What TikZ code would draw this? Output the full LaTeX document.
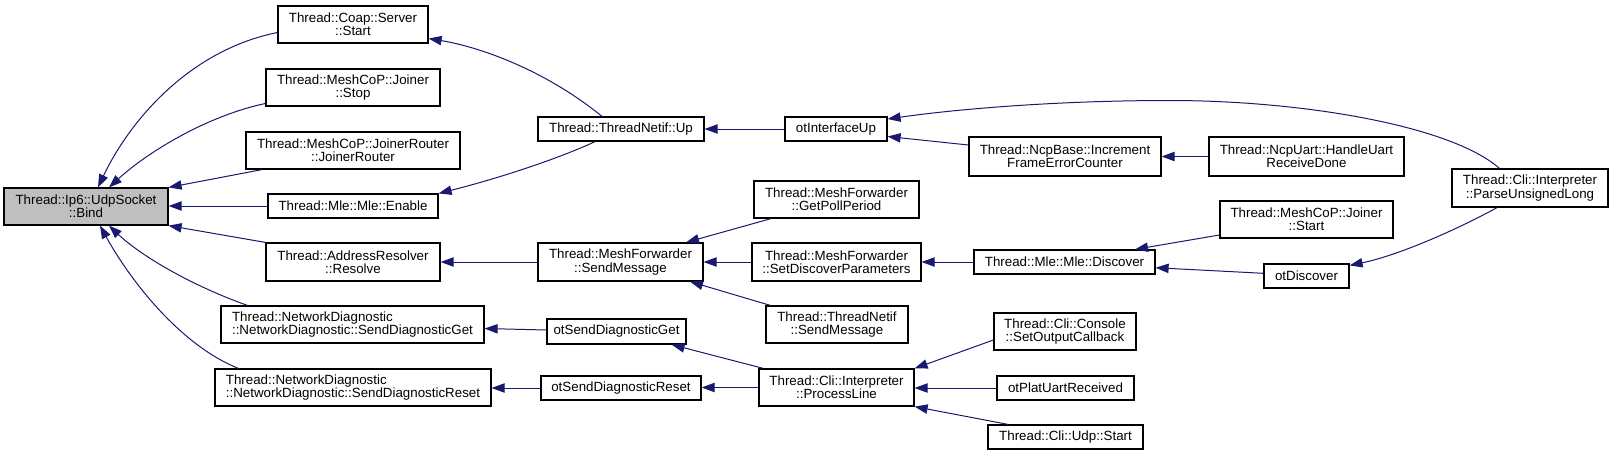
\documentclass[tikz,border=0pt]{standalone}
\usepackage{fontspec}
\setmainfont{Liberation Sans}
\usetikzlibrary{arrows.meta}
\definecolor{edgec}{HTML}{191970}
\definecolor{bindfill}{HTML}{BFBFBF}
\newcommand\mybox[7][]{\node[box,#1,minimum width={(#4-#2)*0.75pt},minimum height={(#5-#3)*0.75pt}] (#6) at ({(#2+#4)/2},{(#3+#5)/2}) {#7};}
\begin{document}
\begin{tikzpicture}[x=0.75pt,y=-0.75pt,
  box/.style={draw=black,line width=0.9pt,fill=white,inner sep=0pt,align=center,font=\fontsize{10pt}{10pt}\selectfont},
  edge/.style={draw=edgec,line width=0.75pt,-{Triangle[length=9.75pt,width=7pt]}},
]
\path[use as bounding box,fill=white] (0,0) rectangle (1613,455);

% nodes
\mybox[fill=bindfill]{4}{188}{168}{225}{bind}{Thread::Ip6::UdpSocket\\::Bind}
\mybox{278}{6}{428}{43}{srv}{Thread::Coap::Server\\::Start}
\mybox{266}{69}{440}{106}{stop}{Thread::MeshCoP::Joiner\\::Stop}
\mybox{246}{132}{460}{169}{jr}{Thread::MeshCoP::JoinerRouter\\::JoinerRouter}
\mybox{268}{194}{438}{218}{enable}{Thread::Mle::Mle::Enable}
\mybox{266}{243}{440}{281}{resolve}{Thread::AddressResolver\\::Resolve}
\mybox[align=left]{221}{306}{484}{343}{sdget}{Thread::NetworkDiagnostic\\::NetworkDiagnostic::SendDiagnosticGet}
\mybox[align=left]{215}{369}{491}{406}{sdreset}{Thread::NetworkDiagnostic\\::NetworkDiagnostic::SendDiagnosticReset}
\mybox{538}{117}{704}{141}{tnup}{Thread::ThreadNetif::Up}
\mybox{785}{117}{887}{141}{otif}{otInterfaceUp}
\mybox{969}{137}{1161}{176}{ncp}{Thread::NcpBase::Increment\\FrameErrorCounter}
\mybox{1209}{137}{1404}{176}{huart}{Thread::NcpUart::HandleUart\\ReceiveDone}
\mybox{1452}{169}{1608}{207}{pul}{Thread::Cli::Interpreter\\::ParseUnsignedLong}
\mybox{754}{181}{919}{218}{gpp}{Thread::MeshForwarder\\::GetPollPeriod}
\mybox{538}{243}{703}{281}{mfsend}{Thread::MeshForwarder\\::SendMessage}
\mybox{752}{243}{921}{281}{sdp}{Thread::MeshForwarder\\::SetDiscoverParameters}
\mybox{766}{306}{908}{343}{tnsend}{Thread::ThreadNetif\\::SendMessage}
\mybox{974}{250}{1155}{274}{disc}{Thread::Mle::Mle::Discover}
\mybox{1220}{201}{1393}{238}{jstart}{Thread::MeshCoP::Joiner\\::Start}
\mybox{1264}{264}{1349}{288}{otdisc}{otDiscover}
\mybox{547}{319}{686}{344}{otsdget}{otSendDiagnosticGet}
\mybox{541}{376}{701}{400}{otsdreset}{otSendDiagnosticReset}
\mybox{759}{369}{914}{406}{proc}{Thread::Cli::Interpreter\\::ProcessLine}
\mybox{994}{313}{1136}{350}{soc}{Thread::Cli::Console\\::SetOutputCallback}
\mybox{997}{376}{1134}{400}{uart}{otPlatUartReceived}
\mybox{988}{425}{1143}{449}{udp}{Thread::Cli::Udp::Start}

% edges
\draw[edge] ([shift={(0,8)}]srv.west) .. controls (190,50) and (130,120) .. ([shift={(12,0)}]bind.north);
\draw[edge] ([shift={(0,16)}]stop.west) .. controls (210,115) and (150,150) .. ([shift={(23,0)}]bind.north);
\draw[edge] ([shift={(-91,0)}]jr.south) -- (bind.north east);
\draw[edge] (enable.west) -- (enable.west -| bind.east);
\draw[edge] (resolve.north west) -- (bind.south east);
\draw[edge] ([shift={(27,0)}]sdget.north west) .. controls (190,285) and (140,255) .. ([shift={(23,0)}]bind.south);
\draw[edge] ([shift={(24,0)}]sdreset.north west) .. controls (180,345) and (130,280) .. ([shift={(14,0)}]bind.south);
\draw[edge] ([shift={(-19,0)}]tnup.north) .. controls (545,70) and (480,47) .. ([shift={(0,14)}]srv.east);
\draw[edge] ([shift={(-26,0)}]tnup.south) .. controls (560,158) and (500,178) .. (enable.north east);
\draw[edge] (otif.west) -- (tnup.east);
\draw[edge] ([shift={(-30.5,0)}]pul.north) .. controls (1450,125) and (1300,100.5) .. (1170,100.5)
   .. controls (1050,100.5) and (950,110) .. ([shift={(0,-10)}]otif.east);
\draw[edge] ([shift={(0,-11.5)}]ncp.west) -- ([shift={(0,7.5)}]otif.east);
\draw[edge] (huart.west) -- (ncp.east);
\draw[edge] (mfsend.west) -- (resolve.east);
\draw[edge] ([shift={(-65.5,0)}]gpp.south) -- ([shift={(65.5,0)}]mfsend.north);
\draw[edge] (sdp.west) -- (mfsend.east);
\draw[edge] ([shift={(5,0)}]tnsend.north west) -- ([shift={(69.5,0)}]mfsend.south);
\draw[edge] (disc.west) -- (sdp.east);
\draw[edge] ([shift={(0,15.5)}]jstart.west) -- ([shift={(70.5,0)}]disc.north);
\draw[edge] ([shift={(0,-2.7)}]otdisc.west) -- ([shift={(0,5.7)}]disc.east);
\draw[edge] ([shift={(-33,0)}]pul.south) .. controls (1460,228) and (1400,255) .. ([shift={(0,2)}]otdisc.north east);
\draw[edge] ([shift={(0,-1.5)}]otsdget.west) -- ([shift={(0,4)}]sdget.east);
\draw[edge] ([shift={(5,0)}]proc.north west) -- ([shift={(-15,0)}]otsdget.south east);
\draw[edge] (otsdreset.west) -- (otsdreset.west -| sdreset.east);
\draw[edge] (proc.west) -- (proc.west -| otsdreset.east);
\draw[edge] ([shift={(0,8.5)}]soc.west) -- (proc.north east);
\draw[edge] (uart.west) -- (uart.west -| proc.east);
\draw[edge] ([shift={(20.7,0)}]udp.north west) -- (proc.south east);
\end{tikzpicture}
\end{document}
